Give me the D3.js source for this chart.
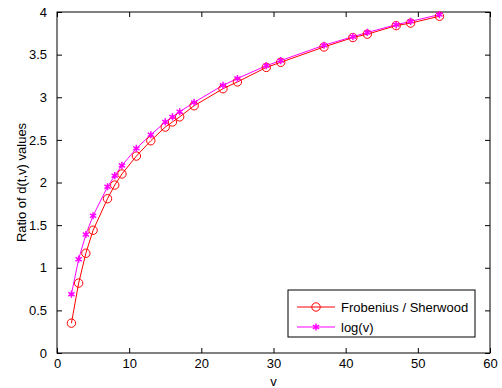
<!DOCTYPE html>
<html>
<head>
<meta charset="utf-8">
<script src="https://cdn.jsdelivr.net/npm/d3@7"></script>
<style>
  body { margin: 0; background: #fff; }
  svg { display: block; font-family: "Liberation Sans", Arial, sans-serif; }
</style>
</head>
<body>
<div id="container"></div>
<script>
// values
const vValues = [2, 3, 4, 5, 7, 8, 9, 11, 13, 15, 16, 17, 19, 23, 25, 29, 31, 37, 41, 43, 47, 49, 53];
const frobenius = [0.35, 0.82, 1.17, 1.44, 1.81, 1.97, 2.10, 2.31, 2.49, 2.65, 2.71, 2.77, 2.90, 3.10, 3.18, 3.35, 3.41, 3.59, 3.70, 3.74, 3.84, 3.87, 3.95];
const logV = [0.69, 1.10, 1.39, 1.61, 1.95, 2.08, 2.20, 2.40, 2.56, 2.71, 2.77, 2.83, 2.94, 3.14, 3.22, 3.37, 3.43, 3.61, 3.71, 3.76, 3.85, 3.89, 3.97];
const seriesNames = ["Frobenius / Sherwood", "log(v)"];
const xTicks = [0, 10, 20, 30, 40, 50, 60];
const yTicks = [0, 0.5, 1, 1.5, 2, 2.5, 3, 3.5, 4];

const w = 502, h = 388;
const margin = {top: 12, left: 57, bottom: 35, right: 12};
const graphWidth = w - margin.left - margin.right;
const graphHeight = h - margin.top - margin.bottom;
const fontSize = "13px";

const svg = d3.select("#container").append("svg").attr("width", w).attr("height", h);
const graph = svg.append("g").attr("transform", `translate(${margin.left}, ${margin.top})`);

const xScale = d3.scaleLinear().domain([0, 60]).range([0, graphWidth]);
const yScale = d3.scaleLinear().domain([0, 4]).range([graphHeight, 0]);

// axes: ticks pointing inwards, mirrored on top and right
const styleAxis = g => {
  g.select(".domain").remove();
  g.selectAll("line").attr("stroke", "#000");
  g.selectAll("text").attr("fill", "#000").style("font-size", fontSize);
};
graph.append("g").attr("transform", `translate(0, ${graphHeight})`)
  .call(d3.axisBottom(xScale).tickValues(xTicks).tickFormat(d3.format("d")).tickSizeInner(-5).tickPadding(6))
  .call(styleAxis);
graph.append("g")
  .call(d3.axisLeft(yScale).tickValues(yTicks).tickFormat(d => d).tickSizeInner(-5).tickPadding(10))
  .call(styleAxis);
graph.append("g")
  .call(d3.axisTop(xScale).tickValues(xTicks).tickFormat("").tickSizeInner(-5))
  .call(styleAxis);
graph.append("g").attr("transform", `translate(${graphWidth}, 0)`)
  .call(d3.axisRight(yScale).tickValues(yTicks).tickFormat("").tickSizeInner(-5))
  .call(styleAxis);

graph.append("rect")
  .attr("width", graphWidth).attr("height", graphHeight)
  .attr("fill", "none").attr("stroke", "#000").attr("stroke-width", 1);

// labels
svg.append("text").attr("x", margin.left + graphWidth / 2).attr("y", 386)
  .attr("text-anchor", "middle").style("font-size", fontSize).text("v");
svg.append("text").attr("transform", `translate(26, ${margin.top + graphHeight / 2}) rotate(-90)`)
  .attr("text-anchor", "middle").style("font-size", fontSize).text("Ratio of d(t,v) values");

// series
const line = d3.line().x(d => xScale(d[0])).y(d => yScale(d[1]));
const frobData = vValues.map((v, i) => [v, frobenius[i]]);
const logData = vValues.map((v, i) => [v, logV[i]]);
const star = d3.symbol().type(d3.symbolAsterisk).size(36);

graph.append("path").datum(frobData).attr("d", line)
  .attr("fill", "none").attr("stroke", "#ff0000").attr("stroke-width", 1);
graph.append("path").datum(logData).attr("d", line)
  .attr("fill", "none").attr("stroke", "#ff00ff").attr("stroke-width", 1);

graph.selectAll(".circ").data(frobData).enter().append("circle")
  .attr("class", "circ")
  .attr("cx", d => xScale(d[0])).attr("cy", d => yScale(d[1])).attr("r", 4.2)
  .attr("fill", "none").attr("stroke", "#ff0000").attr("stroke-width", 1);
graph.selectAll(".star").data(logData).enter().append("path")
  .attr("class", "star")
  .attr("transform", d => `translate(${xScale(d[0])}, ${yScale(d[1])})`)
  .attr("d", star).attr("fill", "none").attr("stroke", "#ff00ff").attr("stroke-width", 1.5);

// legend
const legend = svg.append("g").attr("transform", "translate(288, 290)");
legend.append("rect").attr("width", 187).attr("height", 47)
  .attr("fill", "#fff").attr("stroke", "#000").attr("stroke-width", 1);
const colors = ["#ff0000", "#ff00ff"];
seriesNames.forEach((name, i) => {
  const y = 17 + i * 20;
  legend.append("line").attr("x1", 9).attr("x2", 47).attr("y1", y).attr("y2", y)
    .attr("stroke", colors[i]).attr("stroke-width", 1);
  if (i === 0) {
    legend.append("circle").attr("cx", 28).attr("cy", y).attr("r", 4.2)
      .attr("fill", "none").attr("stroke", colors[i]);
  } else {
    legend.append("path").attr("transform", `translate(28, ${y})`).attr("d", star)
      .attr("fill", "none").attr("stroke", colors[i]).attr("stroke-width", 1.5);
  }
  legend.append("text").attr("x", 53).attr("y", y).attr("dy", "0.35em")
    .style("font-size", fontSize).text(name);
});
</script>
</body>
</html>
